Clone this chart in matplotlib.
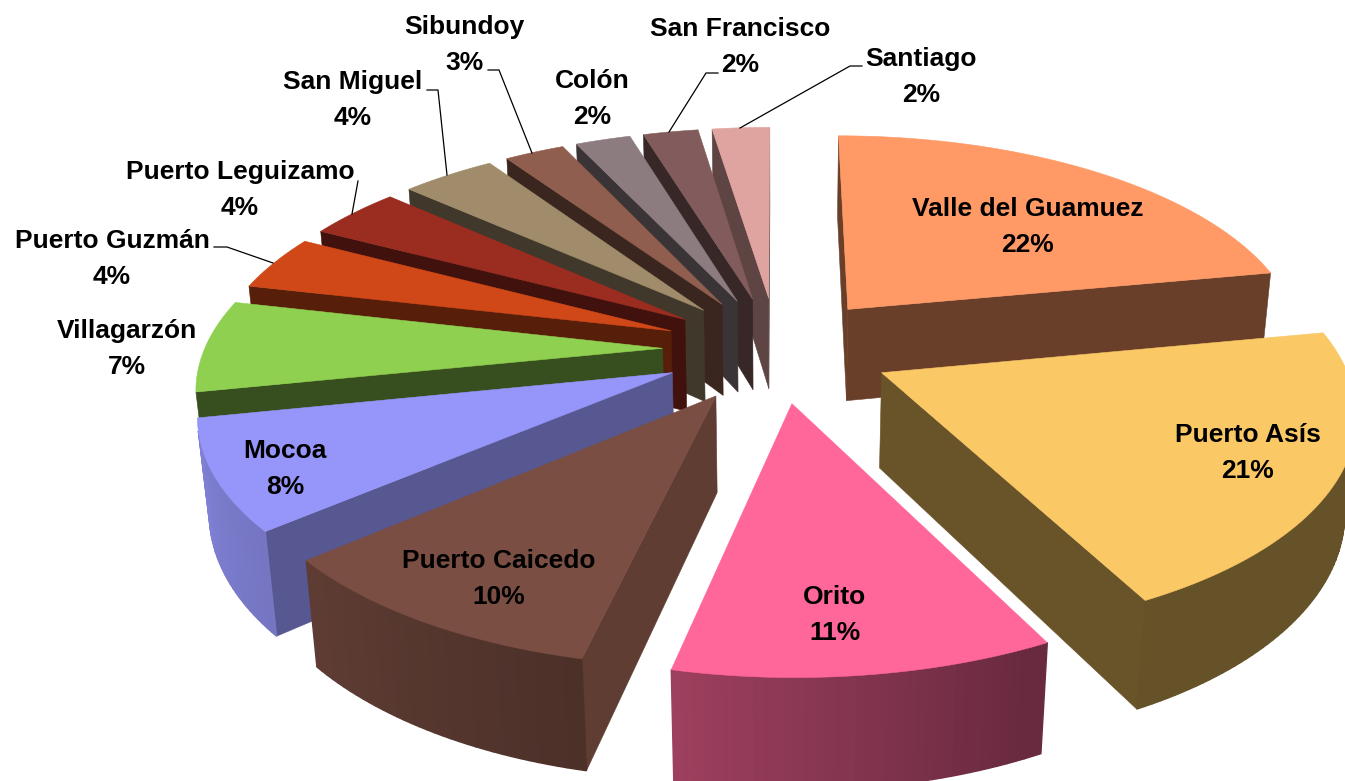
import matplotlib
matplotlib.use("Agg")
import matplotlib.pyplot as plt
import numpy as np

municipios = ["Valle del Guamuez", "Puerto Asís", "Orito", "Puerto Caicedo", "Mocoa",
              "Villagarzón", "Puerto Guzmán", "Puerto Leguizamo", "San Miguel",
              "Sibundoy", "Colón", "San Francisco", "Santiago"]
etiquetas_pct = ["22%", "21%", "11%", "10%", "8%", "7%", "4%", "4%", "4%", "3%", "2%", "2%", "2%"]
# tamano de cada sector
porcentajes = [22.0, 20.5, 11.0, 10.25, 8.05, 6.8, 4.1, 3.9, 3.9, 2.5, 2.3, 2.3, 2.4]
colores = ["#FF9966", "#FAC864", "#FF6699", "#7A4E42", "#9696FA", "#90D050", "#D04818",
           "#9A2C20", "#A08C6A", "#905E4E", "#8C7C80", "#825C5C", "#E0A4A0"]
# factor de oscurecimiento de la pared radial de cada sector
sombra_pared = [0.41, 0.42, 0.40, 0.78, 0.58, 0.38, 0.42, 0.42, 0.40, 0.40, 0.42, 0.42, 0.42]

# posicion de cada etiqueta (centro) en pixeles
pos_etiquetas = [(1028, 227), (1248, 453), (835, 615), (499, 579), (285, 469), (127, 349),
                 (112, 259), (240, 190), (353, 100), (464, 45), (592, 99), (740, 47), (921, 77)]
guias = {
    "Puerto Guzmán": [(214, 247), (227, 247), (273, 263)],
    "Puerto Leguizamo": [(358, 181), (352, 214)],
    "San Miguel": [(427, 90), (438, 90), (447, 175)],
    "Sibundoy": [(488, 70), (499, 70), (532, 153)],
    "San Francisco": [(718, 73), (706, 73), (669, 132)],
    "Santiago": [(862, 66), (850, 66), (740, 128)],
}

CX, CY = 777, 349
RX, RY = 458, 212
K, M = 0.156, 0.02
ALTO = 96
EXPLOSION = 0.25


def proyectar(x, y, z):
    p = 1 / (1 + K * y + M * z)
    return CX + RX * x * p, CY - RY * y * p + ALTO * z * p ** 1.2


def sombra_arco(theta):
    return np.interp(theta, [90, 155, 194, 230, 260, 360], [0.41, 0.41, 0.63, 0.78, 0.87, 0.87])


def oscurecer(color, f):
    return tuple(c * f for c in matplotlib.colors.to_rgb(color))


def area(pts):
    xs, ys = np.array(pts).T
    return 0.5 * np.sum(xs * np.roll(ys, -1) - np.roll(xs, -1) * ys)


def cara(ax, pts, color, orden, lw=0.4):
    ax.fill(*np.array(pts).T, color=color, lw=lw, zorder=orden)


fig = plt.figure(figsize=(13.45, 7.81), dpi=100)
ax = fig.add_axes([0, 0, 1, 1])
ax.set_xlim(0, 1345)
ax.set_ylim(781, 0)
ax.axis("off")

cortes = np.concatenate([[0], np.cumsum(porcentajes)]) * 3.6
medios = (cortes[:-1] + cortes[1:]) / 2
# de atras hacia adelante
orden = np.argsort(-np.cos(np.radians(medios)))

for n, i in enumerate(orden):
    a0, a1 = cortes[i], cortes[i + 1]
    mid = np.radians(medios[i])
    ox, oy = EXPLOSION * np.sin(mid), EXPLOSION * np.cos(mid)
    thetas = np.linspace(a0, a1, max(int(a1 - a0), 4))
    xs = ox + np.sin(np.radians(thetas))
    ys = oy + np.cos(np.radians(thetas))
    base = 10 + n * 3

    # paredes radiales
    for x, y in [(xs[0], ys[0]), (xs[-1], ys[-1])]:
        quad = [proyectar(ox, oy, 0), proyectar(x, y, 0), proyectar(x, y, 1), proyectar(ox, oy, 1)]
        es_frente = area(quad) < 0 if x == xs[0] else area(quad) > 0
        if es_frente:
            cara(ax, quad, oscurecer(colores[i], sombra_pared[i]), base)

    # pared exterior en tiras, para el degradado
    for j in range(len(thetas) - 1):
        quad = [proyectar(xs[j], ys[j], 0), proyectar(xs[j + 1], ys[j + 1], 0),
                proyectar(xs[j + 1], ys[j + 1], 1), proyectar(xs[j], ys[j], 1)]
        if area(quad) < 0:
            cara(ax, quad, oscurecer(colores[i], sombra_arco(thetas[j])), base + 1, lw=1.0)

    # cara superior
    borde = [proyectar(ox, oy, 0)] + [proyectar(x, y, 0) for x, y in zip(xs, ys)]
    cara(ax, borde, colores[i], base + 2)

for nombre, pct, (tx, ty) in zip(municipios, etiquetas_pct, pos_etiquetas):
    ax.text(tx, ty, f"{nombre}\n{pct}", ha="center", va="center", fontsize=19,
            fontweight="bold", family="Liberation Sans", linespacing=1.6, zorder=100)

for pts in guias.values():
    ax.plot(*np.array(pts).T, color="black", lw=0.9, zorder=90)

fig.savefig("out.png", dpi=100)
